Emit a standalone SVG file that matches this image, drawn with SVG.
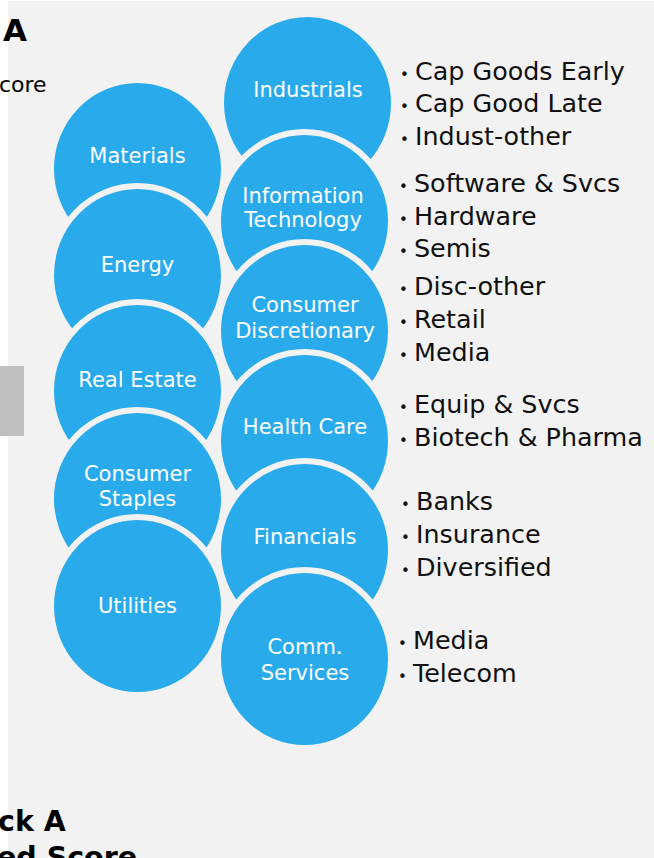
<svg xmlns="http://www.w3.org/2000/svg" width="654" height="858" viewBox="0 0 654 858">
  <style>
    .bg { fill: #f2f2f2; }
    .c { fill: #28aaeb; stroke: #f2f2f2; stroke-width: 6; }
    .lbl { font-family: "DejaVu Sans", "Liberation Sans", sans-serif; font-size: 21px; fill: #ffffff; text-anchor: middle; }
    .bul { font-family: "DejaVu Sans", "Liberation Sans", sans-serif; font-size: 25.4px; fill: #111111; }
    .dot { font-size: 15px; }
    .side { font-family: "DejaVu Sans", "Liberation Sans", sans-serif; fill: #000000; }
    .bold { font-weight: bold; font-size: 31px; }
    .bold2 { font-weight: bold; font-size: 28.5px; }
  </style>
  <rect x="0" y="0" width="654" height="858" fill="#ffffff"/>
  <rect class="bg" x="8" y="1" width="646" height="857"/>
  <rect x="0" y="366" width="24" height="70" fill="#c0c0c0"/>

  <g id="side-text">
    <text class="side bold" x="3" y="41">A</text>
    <text class="side" x="-1" y="92" font-size="22">core</text>
    <text class="side bold2" x="-2" y="831">ck A</text>
    <text class="side bold2" x="-3" y="867">ed Score</text>
  </g>

  <g id="node-materials">
    <ellipse class="c" cx="137.5" cy="169" rx="86.5" ry="89"/>
    <text class="lbl" x="137.5" y="163">Materials</text>
  </g>
  <g id="node-energy">
    <ellipse class="c" cx="137.5" cy="275" rx="86.5" ry="89"/>
    <text class="lbl" x="137.5" y="272">Energy</text>
  </g>
  <g id="node-real-estate">
    <ellipse class="c" cx="137.5" cy="391" rx="86.5" ry="89"/>
    <text class="lbl" x="137.5" y="387">Real Estate</text>
  </g>
  <g id="node-consumer-staples">
    <ellipse class="c" cx="137.5" cy="499" rx="86.5" ry="89"/>
    <text class="lbl" x="137.5" y="481">Consumer</text>
    <text class="lbl" x="137.5" y="506">Staples</text>
  </g>
  <g id="node-utilities">
    <ellipse class="c" cx="137.5" cy="606" rx="86.5" ry="89"/>
    <text class="lbl" x="137.5" y="613">Utilities</text>
  </g>

  <g id="node-industrials">
    <ellipse class="c" cx="307.5" cy="103" rx="86.5" ry="89"/>
    <text class="lbl" x="308" y="97">Industrials</text>
  </g>
  <g id="node-information-technology">
    <ellipse class="c" cx="304.5" cy="221" rx="86.5" ry="89"/>
    <text class="lbl" x="303" y="203">Information</text>
    <text class="lbl" x="303" y="227">Technology</text>
  </g>
  <g id="node-consumer-discretionary">
    <ellipse class="c" cx="304.5" cy="331" rx="86.5" ry="89"/>
    <text class="lbl" x="305" y="312">Consumer</text>
    <text class="lbl" x="305" y="338">Discretionary</text>
  </g>
  <g id="node-health-care">
    <ellipse class="c" cx="304.5" cy="441" rx="86.5" ry="89"/>
    <text class="lbl" x="305" y="434">Health Care</text>
  </g>
  <g id="node-financials">
    <ellipse class="c" cx="304.5" cy="550" rx="86.5" ry="89"/>
    <text class="lbl" x="305" y="544">Financials</text>
  </g>
  <g id="node-comm-services">
    <ellipse class="c" cx="304.5" cy="659" rx="86.5" ry="89"/>
    <text class="lbl" x="305" y="654">Comm.</text>
    <text class="lbl" x="305" y="680">Services</text>
  </g>

  <g id="connectors"></g>

  <g id="list-industrials">
    <text class="bul" y="80"><tspan class="dot" x="400">•</tspan><tspan x="415">Cap Goods Early</tspan></text>
    <text class="bul" y="112"><tspan class="dot" x="400">•</tspan><tspan x="415">Cap Good Late</tspan></text>
    <text class="bul" y="145"><tspan class="dot" x="400">•</tspan><tspan x="415">Indust-other</tspan></text>
  </g>
  <g id="list-it">
    <text class="bul" y="192"><tspan class="dot" x="399">•</tspan><tspan x="414">Software &amp; Svcs</tspan></text>
    <text class="bul" y="225"><tspan class="dot" x="399">•</tspan><tspan x="414">Hardware</tspan></text>
    <text class="bul" y="257"><tspan class="dot" x="399">•</tspan><tspan x="414">Semis</tspan></text>
  </g>
  <g id="list-cd">
    <text class="bul" y="295"><tspan class="dot" x="399">•</tspan><tspan x="414">Disc-other</tspan></text>
    <text class="bul" y="328"><tspan class="dot" x="399">•</tspan><tspan x="414">Retail</tspan></text>
    <text class="bul" y="361"><tspan class="dot" x="399">•</tspan><tspan x="414">Media</tspan></text>
  </g>
  <g id="list-hc">
    <text class="bul" y="413"><tspan class="dot" x="399">•</tspan><tspan x="414">Equip &amp; Svcs</tspan></text>
    <text class="bul" y="446"><tspan class="dot" x="399">•</tspan><tspan x="414">Biotech &amp; Pharma</tspan></text>
  </g>
  <g id="list-fin">
    <text class="bul" y="510"><tspan class="dot" x="401">•</tspan><tspan x="416">Banks</tspan></text>
    <text class="bul" y="543"><tspan class="dot" x="401">•</tspan><tspan x="416">Insurance</tspan></text>
    <text class="bul" y="576"><tspan class="dot" x="401">•</tspan><tspan x="416">Diversified</tspan></text>
  </g>
  <g id="list-comm">
    <text class="bul" y="649"><tspan class="dot" x="398">•</tspan><tspan x="413">Media</tspan></text>
    <text class="bul" y="682"><tspan class="dot" x="398">•</tspan><tspan x="413">Telecom</tspan></text>
  </g>
</svg>
